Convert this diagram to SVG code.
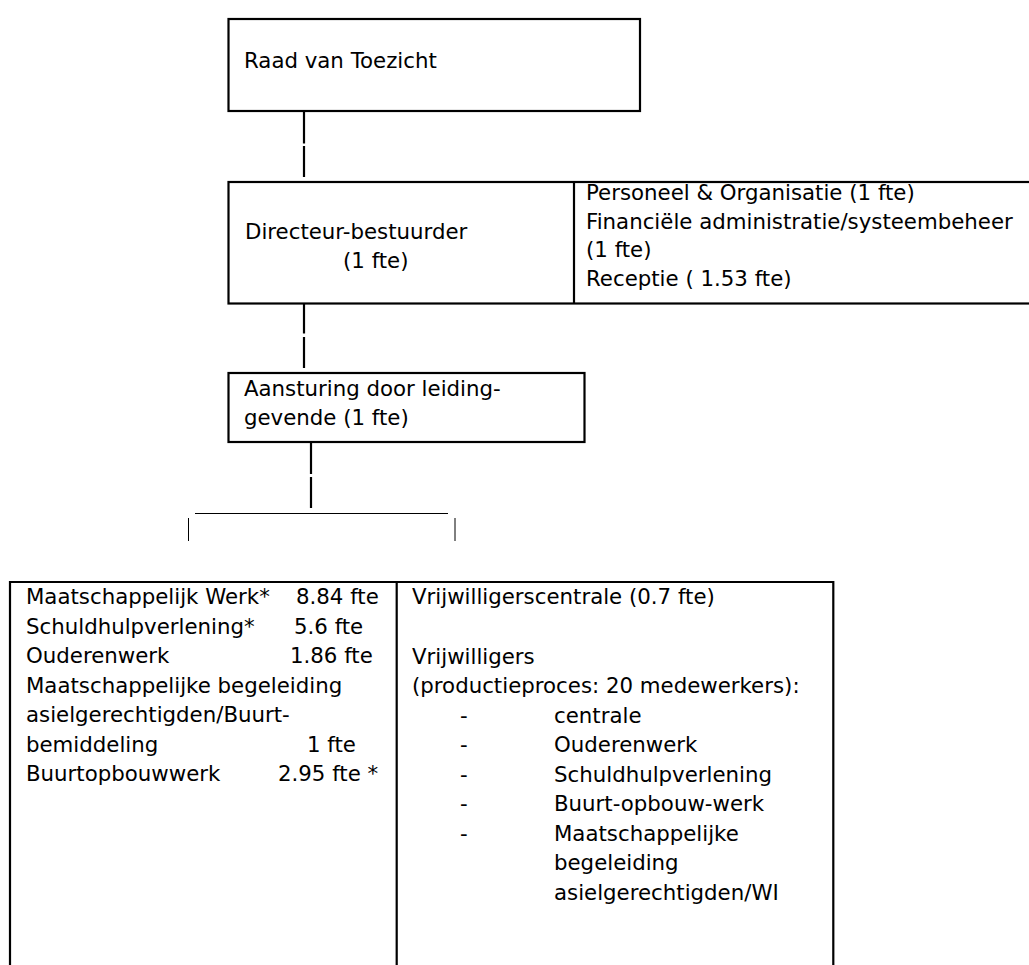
<svg xmlns="http://www.w3.org/2000/svg" width="1029" height="965" viewBox="0 0 1029 965">
<style>
.box{fill:#fff;stroke:#000;stroke-width:2.2}
.ln{stroke:#000;stroke-width:2.2;fill:none}
.thin{stroke:#000;stroke-width:1;fill:none}
text{font-family:Verdana,"DejaVu Sans",sans-serif;font-size:21.3px;fill:#000}
</style>
<rect width="1029" height="965" fill="#fff"/>
<g id="connectors">
<line class="ln" x1="304" y1="112" x2="304" y2="143.5"/>
<line class="ln" x1="304" y1="146" x2="304" y2="177"/>
<line class="ln" x1="304" y1="304" x2="304" y2="333.5"/>
<line class="ln" x1="304" y1="337" x2="304" y2="368"/>
<line class="ln" x1="311" y1="443" x2="311" y2="474"/>
<line class="ln" x1="311" y1="477" x2="311" y2="508"/>
<line class="thin" x1="195" y1="513.5" x2="448" y2="513.5"/>
<line class="thin" x1="188.5" y1="518" x2="188.5" y2="541"/>
<line class="thin" x1="455" y1="518" x2="455" y2="541"/>
</g>
<g id="raad">
<rect class="box" x="228.5" y="19" width="411.5" height="92"/>
<text x="244" y="68">Raad van Toezicht</text>
</g>
<g id="directeur">
<rect class="box" x="228.5" y="182" width="815" height="121.5"/>
<line class="ln" x1="574" y1="182" x2="574" y2="303.5"/>
<text x="245" y="239">Directeur-bestuurder</text>
<text x="343" y="268">(1 fte)</text>
<text x="586" y="200">Personeel &amp; Organisatie (1 fte)</text>
<text x="586" y="228.7">Financiële administratie/systeembeheer</text>
<text x="586" y="257.4">(1 fte)</text>
<text x="586" y="286">Receptie ( 1.53 fte)</text>
</g>
<g id="aansturing">
<rect class="box" x="228.5" y="373" width="356" height="69"/>
<text x="244" y="396">Aansturing door leiding-</text>
<text x="244" y="425">gevende (1 fte)</text>
</g>
<g id="uitvoering">
<path class="ln" d="M10 980 V582 H833.3 V980 M396.7 582 V980"/>
<text x="26" y="604">Maatschappelijk Werk*</text>
<text x="296" y="604">8.84 fte</text>
<text x="26" y="633.5">Schuldhulpverlening*</text>
<text x="294" y="633.5">5.6 fte</text>
<text x="26" y="663">Ouderenwerk</text>
<text x="290" y="663">1.86 fte</text>
<text x="26" y="692.5">Maatschappelijke begeleiding</text>
<text x="26" y="722">asielgerechtigden/Buurt-</text>
<text x="26" y="751.5">bemiddeling</text>
<text x="307" y="751.5">1 fte</text>
<text x="26" y="781">Buurtopbouwwerk</text>
<text x="278" y="781">2.95 fte *</text>
</g>
<g id="vrijwilligers">
<text x="412" y="604">Vrijwilligerscentrale (0.7 fte)</text>
<text x="412" y="663.5">Vrijwilligers</text>
<text x="412" y="693">(productieproces: 20 medewerkers):</text>
<text x="460" y="722.5">-</text><text x="554" y="722.5">centrale</text>
<text x="460" y="752">-</text><text x="554" y="752">Ouderenwerk</text>
<text x="460" y="781.5">-</text><text x="554" y="781.5">Schuldhulpverlening</text>
<text x="460" y="811">-</text><text x="554" y="811">Buurt-opbouw-werk</text>
<text x="460" y="840.5">-</text><text x="554" y="840.5">Maatschappelijke</text>
<text x="554" y="870">begeleiding</text>
<text x="554" y="899.5">asielgerechtigden/WI</text>
</g>
</svg>
